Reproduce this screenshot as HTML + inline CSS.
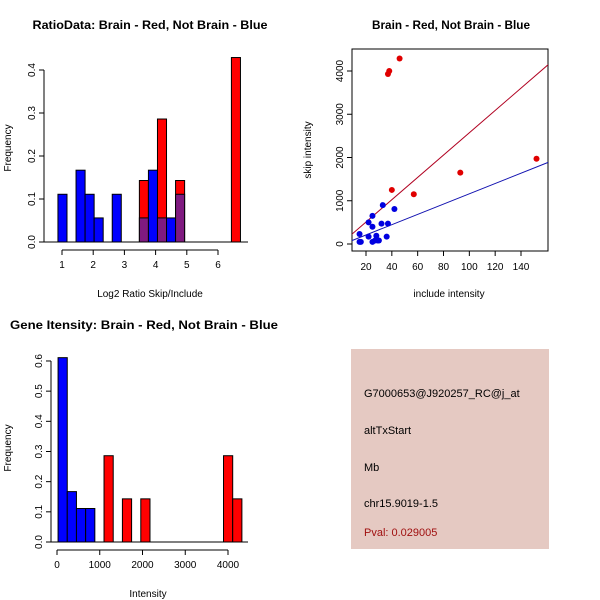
<!DOCTYPE html>
<html><head><meta charset="utf-8"><style>
html,body{margin:0;padding:0;background:#fff;}
svg{display:block;font-family:"Liberation Sans",sans-serif;}
</style></head><body>
<svg id="c" width="600" height="600" viewBox="0 0 600 600">
<rect width="600" height="600" fill="#fff"/>
<g id="p1"></g>
<g id="p2"></g>
<g id="p3"></g>
<g>
<rect x="351" y="349" width="198" height="200" fill="#E5C9C2"/>
<text x="364" y="397" font-size="11">G7000653@J920257_RC@j_at</text>
<text x="364" y="434" font-size="11">altTxStart</text>
<text x="364" y="471" font-size="11">Mb</text>
<text x="364" y="507" font-size="11">chr15.9019-1.5</text>
<text x="364" y="536" font-size="11" fill="#A01010">Pval: 0.029005</text>
</g>
</svg>
<script>
// ---- Plot 1 data: ratio histogram ----
const p1BlueStarts=[0.87,1.45,1.74,2.03,2.61,3.48,3.77,4.06,4.35,4.64];
const p1BlueFreq=[0.111,0.167,0.111,0.056,0.111,0.056,0.167,0.056,0.056,0.111];
const p1RedStarts=[3.48,4.06,4.64,6.43];
const p1RedFreq=[0.143,0.286,0.143,0.429];
const p1BinWidth=0.29;
const p1XTicks=[1,2,3,4,5,6];
const p1YTicks=[0,0.1,0.2,0.3,0.4];
// ---- Plot 2 data: scatter ----
const redX=[37,38,46,40,57,93,152];
const redY=[3930,4000,4290,1250,1150,1650,1970];
const blueX=[15,16,15,22,22,25,25,25,27,28,29,30,32,33,36,37,42];
const blueY=[230,50,50,500,170,650,400,50,80,190,80,80,470,900,170,470,810];
const redFit=[-8,25.8];
const blueFit=[-29,11.9];
const p2XTicks=[20,40,60,80,100,120,140];
const p2YTicks=[0,1000,2000,3000,4000];
// ---- Plot 3 data: intensity histogram ----
const p3BlueStarts=[25,240,455,670];
const p3BlueFreq=[0.611,0.167,0.111,0.111];
const p3RedStarts=[1100,1530,1960,3895,4110];
const p3RedFreq=[0.286,0.143,0.143,0.286,0.143];
const p3BinWidth=215;
const p3XTicks=[0,1000,2000,3000,4000];
const p3YTicks=[0,0.1,0.2,0.3,0.4,0.5,0.6];

const NS='http://www.w3.org/2000/svg';
function mk(parent,tag,attrs,text){const e=document.createElementNS(NS,tag);for(const k in attrs)e.setAttribute(k,attrs[k]);if(text!==undefined)e.textContent=text;parent.appendChild(e);return e;}

function title(g,x,y,t,len){const e=mk(g,'text',{x:x,y:y,'font-size':11.5,'font-weight':'bold','text-anchor':'middle',textLength:len,lengthAdjust:'spacingAndGlyphs'},t);

}
function xlab(g,x,y,t){const e=mk(g,'text',{x:x,y:y,'font-size':10,'text-anchor':'middle'},t);

}
function ylab(g,x,y,t){const e=mk(g,'text',{x:0,y:0,'font-size':10,'text-anchor':'middle',transform:`translate(${x},${y}) rotate(-90)`},t);

}
function xaxis(g,ticks,sx,y,fmt){const a=mk(g,'line',{x1:sx(ticks[0]),x2:sx(ticks[ticks.length-1]),y1:y,y2:y,stroke:'#000'});


ticks.forEach(t=>{mk(g,'line',{x1:sx(t),x2:sx(t),y1:y,y2:y+5,stroke:'#000'});
const e=mk(g,'text',{x:sx(t),y:y+18,'font-size':10,'text-anchor':'middle'},fmt?fmt(t):String(t));

});}
function yaxis(g,ticks,sy,x,fmt){const a=mk(g,'line',{x1:x,x2:x,y1:sy(ticks[0]),y2:sy(ticks[ticks.length-1]),stroke:'#000'});


ticks.forEach(t=>{mk(g,'line',{x1:x-5,x2:x,y1:sy(t),y2:sy(t),stroke:'#000'});
const e=mk(g,'text',{x:0,y:0,'font-size':10,'text-anchor':'middle',transform:`translate(${x-9},${sy(t)}) rotate(-90)`},fmt?fmt(t):String(t));

});}
function bar(g,x0,x1,y0,y1,fill,name){const e=mk(g,'rect',{x:x0,y:y1,width:x1-x0,height:y0-y1,fill:fill,stroke:'#000','stroke-width':1});

}

// Plot 1
(function(){const g=document.getElementById('p1');
const sx=v=>62+(v-1)*31.2, sy=v=>242-v*430;
title(g,150,29,'RatioData: Brain - Red, Not Brain - Blue',235);
mk(g,'line',{x1:44,x2:248,y1:242,y2:242,stroke:'#000'});
p1RedStarts.forEach((s,i)=>bar(g,sx(s),sx(s+p1BinWidth),sy(0),sy(p1RedFreq[i]),'#FF0000','red-bar'));
p1BlueStarts.forEach((s,i)=>{const ov=p1RedStarts.some(r=>Math.abs(r-s)<0.01);
bar(g,sx(s),sx(s+p1BinWidth),sy(0),sy(p1BlueFreq[i]),ov?'#7F1A80':'#0000FF','blue-bar');});
xaxis(g,p1XTicks,sx,250);yaxis(g,p1YTicks,sy,44,t=>t.toFixed(1));
xlab(g,150,297,'Log2 Ratio Skip/Include');ylab(g,11,148,'Frequency');})();

// Plot 2
(function(){const g=document.getElementById('p2');
const sx=v=>366+(v-20)*1.2917, sy=v=>244-v*0.04325;
title(g,451,29,'Brain - Red, Not Brain - Blue',158);
mk(g,'rect',{x:352,y:49,width:196,height:202,fill:'none',stroke:'#000'});
const clip=mk(g,'clipPath',{id:'cp2'});mk(clip,'rect',{x:352,y:49,width:196,height:202});
const lg=mk(g,'g',{'clip-path':'url(#cp2)'});
[[redFit,'#B00020','red-fit-line'],[blueFit,'#1010B0','blue-fit-line']].forEach(([f,c,n])=>{
const l=mk(lg,'line',{x1:sx(0),y1:sy(f[0]),x2:sx(170),y2:sy(f[0]+f[1]*170),stroke:c,'stroke-width':1});

});
redX.forEach((x,i)=>{const e=mk(g,'circle',{cx:sx(x),cy:sy(redY[i]),r:3,fill:'#E00000'});

});
blueX.forEach((x,i)=>{const e=mk(g,'circle',{cx:sx(x),cy:sy(blueY[i]),r:3,fill:'#0000E0'});

});
p2XTicks.forEach(t=>{mk(g,'line',{x1:sx(t),x2:sx(t),y1:251,y2:256,stroke:'#000'});
const e=mk(g,'text',{x:sx(t),y:270,'font-size':10,'text-anchor':'middle'},String(t));

});
p2YTicks.forEach(t=>{mk(g,'line',{x1:347,x2:352,y1:sy(t),y2:sy(t),stroke:'#000'});
const e=mk(g,'text',{x:0,y:0,'font-size':10,'text-anchor':'middle',transform:`translate(343,${sy(t)}) rotate(-90)`},String(t));

});
xlab(g,449,297,'include intensity');ylab(g,311,150,'skip intensity');})();

// Plot 3
(function(){const g=document.getElementById('p3');
const sx=v=>57+v*0.04275, sy=v=>542-v*301.7;
title(g,144,329,'Gene Itensity: Brain - Red, Not Brain - Blue',268);
mk(g,'line',{x1:51,x2:248,y1:542,y2:542,stroke:'#000'});
p3BlueStarts.forEach((s,i)=>bar(g,sx(s),sx(s+p3BinWidth),sy(0),sy(p3BlueFreq[i]),'#0000FF','blue-bar'));
p3RedStarts.forEach((s,i)=>bar(g,sx(s),sx(s+p3BinWidth),sy(0),sy(p3RedFreq[i]),'#FF0000','red-bar'));
xaxis(g,p3XTicks,sx,550);yaxis(g,p3YTicks,sy,51,t=>t.toFixed(1));
xlab(g,148,597,'Intensity');ylab(g,11,448,'Frequency');})();
</script>
</body></html>
